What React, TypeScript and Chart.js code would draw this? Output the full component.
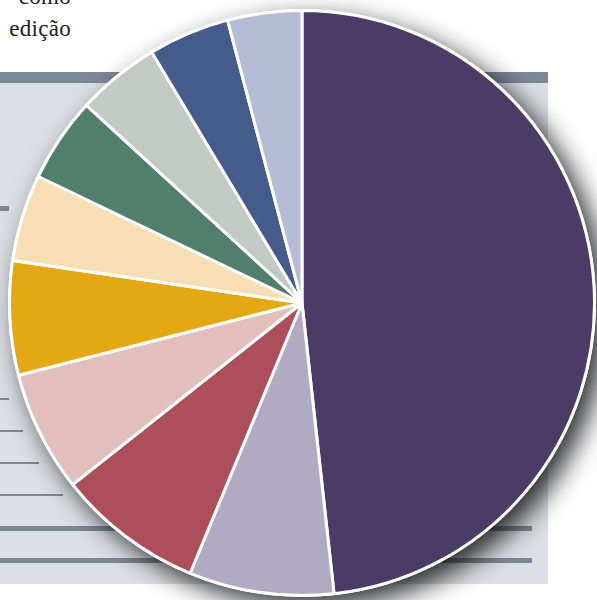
import React, { useEffect, useRef } from "react";
import { Chart, registerables } from "chart.js";

Chart.register(...registerables);

const categories = [
  "Categoria 1",
  "Categoria 2",
  "Categoria 3",
  "Categoria 4",
  "Categoria 5",
  "Categoria 6",
  "Categoria 7",
  "Categoria 8",
  "Categoria 9",
  "Categoria 10",
];
const shares = [48.3, 8.0, 8.1, 6.7, 6.3, 4.8, 4.7, 4.6, 4.5, 4.1];
const sliceColors = [
  "#4a3c67",
  "#b1abc2",
  "#ad4f5a",
  "#e0bfbd",
  "#e3a813",
  "#f6dfb4",
  "#527f6c",
  "#c3c9c4",
  "#455b8b",
  "#b6bbd6",
];

const shadowPlugin = {
  id: "pieShadow",
  beforeDatasetsDraw(chart: any) {
    const meta = chart.getDatasetMeta(0);
    const arc = meta.data[0];
    if (!arc) return;
    const { x, y, outerRadius } = arc.getProps(["x", "y", "outerRadius"], true);
    const ctx = chart.ctx;
    ctx.save();
    ctx.shadowColor = "rgba(10,12,15,0.85)";
    ctx.shadowBlur = 26;
    ctx.shadowOffsetX = 10;
    ctx.shadowOffsetY = 10;
    ctx.fillStyle = "#ffffff";
    ctx.beginPath();
    ctx.arc(x, y, outerRadius + 1.5, 0, Math.PI * 2);
    ctx.fill();
    ctx.restore();
  },
};

export default function App() {
  const ref = useRef<HTMLCanvasElement | null>(null);
  useEffect(() => {
    if (!ref.current) return;
    const chart = new Chart(ref.current, {
      type: "pie",
      data: {
        labels: categories,
        datasets: [
          {
            data: shares,
            backgroundColor: sliceColors,
            borderColor: "#ffffff",
            borderWidth: 3,
            hoverOffset: 0,
          },
        ],
      },
      options: {
        animation: false,
        responsive: false,
        layout: { padding: { left: 8, right: 1, top: 9, bottom: 3 } },
        plugins: {
          legend: { display: false },
          tooltip: { enabled: false },
        },
      },
      plugins: [shadowPlugin],
    });
    return () => chart.destroy();
  }, []);

  const line = (top: number, width: number, h: number) => (
    <div
      style={{
        position: "absolute",
        left: 0,
        top,
        width,
        height: h,
        background: "#7b8896",
      }}
    />
  );

  return (
    <div
      style={{
        position: "fixed",
        left: 0,
        top: 0,
        width: 597,
        height: 600,
        background: "#ffffff",
        overflow: "hidden",
      }}
    >
      <div
        style={{
          position: "absolute",
          left: 0,
          top: 83,
          width: 548,
          height: 501,
          background: "#dcdfe3",
        }}
      />
      <div
        style={{
          position: "absolute",
          left: 0,
          top: 72,
          width: 548,
          height: 11,
          background: "#7b8896",
        }}
      />
      {line(206, 9, 5)}
      {line(398, 9, 2)}
      {line(430, 23, 2)}
      {line(462, 39, 2)}
      {line(494, 63, 2)}
      {line(526, 532, 5)}
      {line(558, 532, 5)}
      <div
        style={{
          position: "absolute",
          right: 597 - 71,
          top: -19,
          fontFamily: "'Liberation Serif', 'DejaVu Serif', serif",
          fontSize: 23,
          letterSpacing: 0.3,
          lineHeight: "32px",
          color: "#222222",
          textAlign: "right",
          whiteSpace: "nowrap",
        }}
      >
        como
        <br />
        edição
      </div>
      <canvas
        ref={ref}
        width={597}
        height={600}
        style={{ position: "absolute", left: 0, top: 0, display: "block" }}
      />
    </div>
  );
}
